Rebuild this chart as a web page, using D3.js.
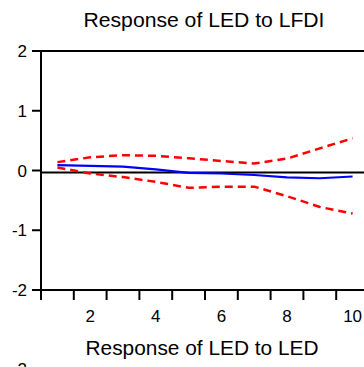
<!DOCTYPE html>
<html>
<head>
<meta charset="utf-8">
<script src="https://cdn.jsdelivr.net/npm/d3@7"></script>
<style>
  body { margin: 0; background: #fff; overflow: hidden; }
  text { font-family: "Liberation Sans", Arial, sans-serif; fill: #000; }
</style>
</head>
<body>
<div id="chart"></div>
<script>
// impulse response periods and values
const periods = [1, 2, 3, 4, 5, 6, 7, 8, 9, 10];
const response = [0.09, 0.076, 0.066, 0.02, -0.04, -0.05, -0.075, -0.115, -0.13, -0.10];
const upperBand = [0.14, 0.22, 0.256, 0.245, 0.205, 0.16, 0.116, 0.2, 0.37, 0.54];
const lowerBand = [0.05, -0.05, -0.11, -0.19, -0.29, -0.27, -0.27, -0.43, -0.61, -0.72];
const yTicks = [-2, -1, 0, 1, 2];
const xLabels = [2, 4, 6, 8, 10];
const xTicks = [0.5, 1.5, 2.5, 3.5, 4.5, 5.5, 6.5, 7.5, 8.5, 9.5, 10.5];

const W = 364, H = 367;
const margin = { top: 51, right: -5, bottom: 77, left: 41 };

const svg = d3.select("#chart")
  .append("svg")
  .attr("width", W)
  .attr("height", H);

const x = d3.scaleLinear()
  .domain([0.5, 10.5])
  .range([margin.left, W - margin.right]);

const y = d3.scaleLinear()
  .domain([-2, 2])
  .range([H - margin.bottom, margin.top]);

// title
svg.append("text")
  .attr("x", 204)
  .attr("y", 27)
  .attr("text-anchor", "middle")
  .attr("textLength", 241)
  .attr("lengthAdjust", "spacingAndGlyphs")
  .style("font-size", "20px")
  .text("Response of LED to LFDI");

// frame: top and left edges
svg.append("path")
  .attr("d", `M${x(10.5)},${y(2)}H${x(0.5)}V${y(-2)}H${x(10.5)}`)
  .attr("fill", "none")
  .attr("stroke", "#000")
  .attr("stroke-width", 2);

// y axis ticks
svg.selectAll(".ytick")
  .data(yTicks)
  .enter()
  .append("line")
  .attr("x1", x(0.5) - 9)
  .attr("x2", x(0.5))
  .attr("y1", d => y(d))
  .attr("y2", d => y(d))
  .attr("stroke", "#000")
  .attr("stroke-width", 2);

svg.selectAll(".ylabel")
  .data(yTicks)
  .enter()
  .append("text")
  .attr("x", x(0.5) - 14)
  .attr("y", d => y(d) + 6)
  .attr("text-anchor", "end")
  .style("font-size", "17px")
  .text(d => d);

// x axis ticks
svg.selectAll(".xtick")
  .data(xTicks)
  .enter()
  .append("line")
  .attr("x1", d => x(d))
  .attr("x2", d => x(d))
  .attr("y1", y(-2))
  .attr("y2", y(-2) + 10)
  .attr("stroke", "#000")
  .attr("stroke-width", 2);

svg.selectAll(".xlabel")
  .data(xLabels)
  .enter()
  .append("text")
  .attr("x", d => x(d))
  .attr("y", y(-2) + 32)
  .attr("text-anchor", "middle")
  .style("font-size", "17px")
  .text(d => d);

// zero line
svg.append("line")
  .attr("x1", x(0.5))
  .attr("x2", x(10.5))
  .attr("y1", y(0) + 2)
  .attr("y2", y(0) + 2)
  .attr("stroke", "#000")
  .attr("stroke-width", 2);

const line = d3.line()
  .x((d, i) => x(periods[i]))
  .y(d => y(d));

// confidence bands
[upperBand, lowerBand].forEach(band => {
  svg.append("path")
    .datum(band)
    .attr("d", line)
    .attr("fill", "none")
    .attr("stroke", "#ff0000")
    .attr("stroke-width", 2.5)
    .attr("stroke-dasharray", "8 5");
});

// response
svg.append("path")
  .datum(response)
  .attr("d", line)
  .attr("fill", "none")
  .attr("stroke", "#0000ff")
  .attr("stroke-width", 2.2);

// next panel heading
svg.append("text")
  .attr("x", 202)
  .attr("y", 355)
  .attr("text-anchor", "middle")
  .attr("textLength", 233)
  .attr("lengthAdjust", "spacingAndGlyphs")
  .style("font-size", "20px")
  .text("Response of LED to LED");

// top label of the next panel, cut by the bottom edge
svg.append("text")
  .attr("x", 27)
  .attr("y", 375)
  .attr("text-anchor", "end")
  .style("font-size", "17px")
  .text("2");
</script>
</body>
</html>
